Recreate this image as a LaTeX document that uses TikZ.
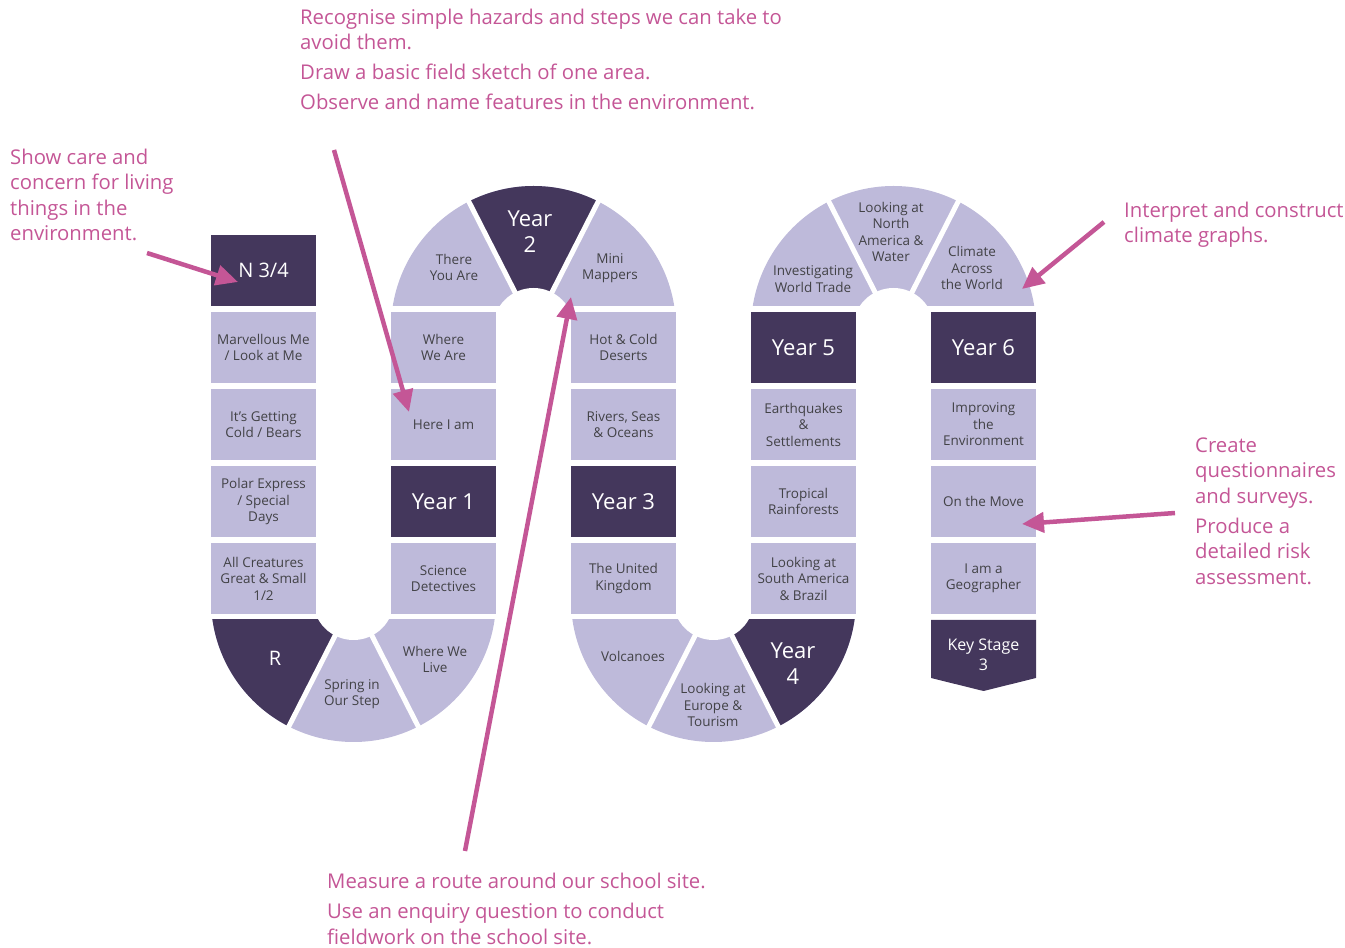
\documentclass[tikz,border=0pt]{standalone}
\usepackage{fontspec}
\setmainfont{Open Sans}
\newfontfamily\notefont{Open Sans}
\usetikzlibrary{arrows.meta}
\definecolor{plum}{RGB}{68,55,92}
\definecolor{lilac}{RGB}{190,186,218}
\definecolor{rose}{RGB}{196,86,150}
\definecolor{ink}{RGB}{66,66,70}

\begin{document}
\begin{tikzpicture}[x=1pt, y=1pt, topic/.style={fill=lilac, minimum width=105pt, minimum height=71pt, inner sep=0pt, align=center, text=ink, font=\fontsize{13.5}{16.5}\selectfont}, year/.style={topic, fill=plum, text=white, font=\fontsize{22}{26}\selectfont}, lbl/.style={align=center, inner sep=0pt, text=ink, font=\fontsize{13.5}{16.5}\selectfont}, ylbl/.style={lbl, text=white, font=\fontsize{22}{26}\selectfont}, note/.style={anchor=north west, align=left, inner sep=0pt, text=rose, font=\notefont\fontsize{20.3}{25.5}\selectfont}, arr/.style={-{Triangle[length=22pt, width=20pt]}, line width=4.5pt, rose}, gap/.style={white, line width=5pt}]
\useasboundingbox (0,0) rectangle (1345,948);
% turns at the top
\begin{scope} \clip (380,642) rectangle (690,800); \fill[lilac] (533.5,619.5) circle[radius=142.5]; \fill[plum] (533.5,619.5) -- ++(63:142.5) arc[start angle=63, end angle=117, radius=142.5] -- cycle; \foreach \a in {63,117} \draw[gap] (533.5,619.5) -- ++(\a:150); \fill[white] (533.5,619.5) circle[radius=40.5]; \end{scope}
\begin{scope} \clip (740,642) rectangle (1050,800); \fill[lilac] (893.5,619.5) circle[radius=142.5]; \foreach \a in {63,117} \draw[gap] (893.5,619.5) -- ++(\a:150); \fill[white] (893.5,619.5) circle[radius=40.5]; \end{scope}
% turns at the bottom
\begin{scope} \clip (200,328) rectangle (510,180); \fill[lilac] (353.5,348.5) circle[radius=142.5]; \fill[plum] (353.5,348.5) -- ++(-180:142.5) arc[start angle=-180, end angle=-117, radius=142.5] -- cycle; \foreach \a in {-63,-117} \draw[gap] (353.5,348.5) -- ++(\a:150); \fill[white] (353.5,348.5) circle[radius=40.5]; \end{scope}
\begin{scope} \clip (560,328) rectangle (870,180); \fill[lilac] (713.5,348.5) circle[radius=142.5]; \fill[plum] (713.5,348.5) -- ++(-63:142.5) arc[start angle=-63, end angle=0, radius=142.5] -- cycle; \foreach \a in {-63,-117} \draw[gap] (713.5,348.5) -- ++(\a:150); \fill[white] (713.5,348.5) circle[radius=40.5]; \end{scope}
% columns
\node[year, font=\fontsize{20}{24}\selectfont] (n34) at (263.5,677.5) {N 3/4}; \node[topic] (marvellous) at (263.5,600.5) {Marvellous Me\\/ Look at Me}; \node[topic] (cold) at (263.5,523.5) {It’s Getting\\Cold / Bears}; \node[topic] (polar) at (263.5,446.5) {Polar Express\\/ Special\\Days}; \node[topic] (creatures) at (263.5,369.5) {All Creatures\\Great \& Small\\1/2};
\node[topic] (wherewe) at (443.5,600.5) {Where\\We Are}; \node[topic] (hereiam) at (443.5,523.5) {Here I am}; \node[year] (year1) at (443.5,446.5) {Year 1}; \node[topic] (science) at (443.5,369.5) {Science\\Detectives};
\node[topic] (deserts) at (623.5,600.5) {Hot \& Cold\\Deserts}; \node[topic] (rivers) at (623.5,523.5) {Rivers, Seas\\\& Oceans}; \node[year] (year3) at (623.5,446.5) {Year 3}; \node[topic] (uk) at (623.5,369.5) {The United\\Kingdom};
\node[year] (year5) at (803.5,600.5) {Year 5}; \node[topic] (quakes) at (803.5,523.5) {Earthquakes\\\&\\Settlements}; \node[topic] (tropical) at (803.5,446.5) {Tropical\\Rainforests}; \node[topic] (samerica) at (803.5,369.5) {Looking at\\South America\\\& Brazil};
\node[year] (year6) at (983.5,600.5) {Year 6}; \node[topic] (improving) at (983.5,523.5) {Improving\\the\\Environment}; \node[topic] (move) at (983.5,446.5) {On the Move}; \node[topic] (geographer) at (983.5,369.5) {I am a\\Geographer};
\fill[plum] (931,328) -- (1036,328) -- (1036,270) -- (983.5,257) -- (931,270) -- cycle; \node[lbl, text=white, font=\fontsize{16}{20}\selectfont] (ks3) at (983.5,293) {Key Stage\\3};
% labels in the turns
\node[lbl] (thereyou) at (454,680.5) {There\\You Are}; \node[ylbl] (year2) at (530,716) {Year\\2}; \node[lbl] (mappers) at (610,680) {Mini\\Mappers};
\node[lbl] (trade) at (813,669) {Investigating\\World Trade}; \node[lbl] (namerica) at (891,716) {Looking at\\North\\America \&\\Water}; \node[lbl] (climate) at (972,680) {Climate\\Across\\the World};
\node[ylbl, font=\fontsize{20}{24}\selectfont] (rec) at (275,290) {R}; \node[lbl] (spring) at (352,254) {Spring in\\Our Step}; \node[lbl] (welive) at (435,288.5) {Where We\\Live};
\node[lbl] (volcanoes) at (633,292) {Volcanoes}; \node[lbl] (europe) at (713,243) {Looking at\\Europe \&\\Tourism}; \node[ylbl] (year4) at (793,284) {Year\\4};
% skills
\node[note] (hazards) at (300,941.85) {\strut Recognise simple hazards and steps we can take to\\avoid them.\\[4.5pt]Draw a basic field sketch of one area.\\[4.5pt]Observe and name features in the environment.};
\node[note] (care) at (10,801.85) {\strut Show care and\\concern for living\\things in the\\environment.};
\node[note] (graphs) at (1124,748.85) {\strut Interpret and construct\\climate graphs.};
\node[note] (surveys) at (1195,513.85) {\strut Create\\questionnaires\\and surveys.\\[4.5pt]Produce a\\detailed risk\\assessment.};
\node[note] (route) at (327,77.85) {\strut Measure a route around our school site.\\[5pt]Use an enquiry question to conduct\\fieldwork on the school site.};
\coordinate (careend) at (147,695); \coordinate (hazardsend) at (334,798); \coordinate (routeend) at (465,97); \coordinate (graphsend) at (1104,726); \coordinate (surveysend) at (1175,435);
\draw[arr] (careend) -- (238,666); \draw[arr] (hazardsend) -- (409,536); \draw[arr] (routeend) -- (571,651); \draw[arr] (graphsend) -- (1022,659); \draw[arr] (surveysend) -- (1022,424);
\end{tikzpicture}
\end{document}
